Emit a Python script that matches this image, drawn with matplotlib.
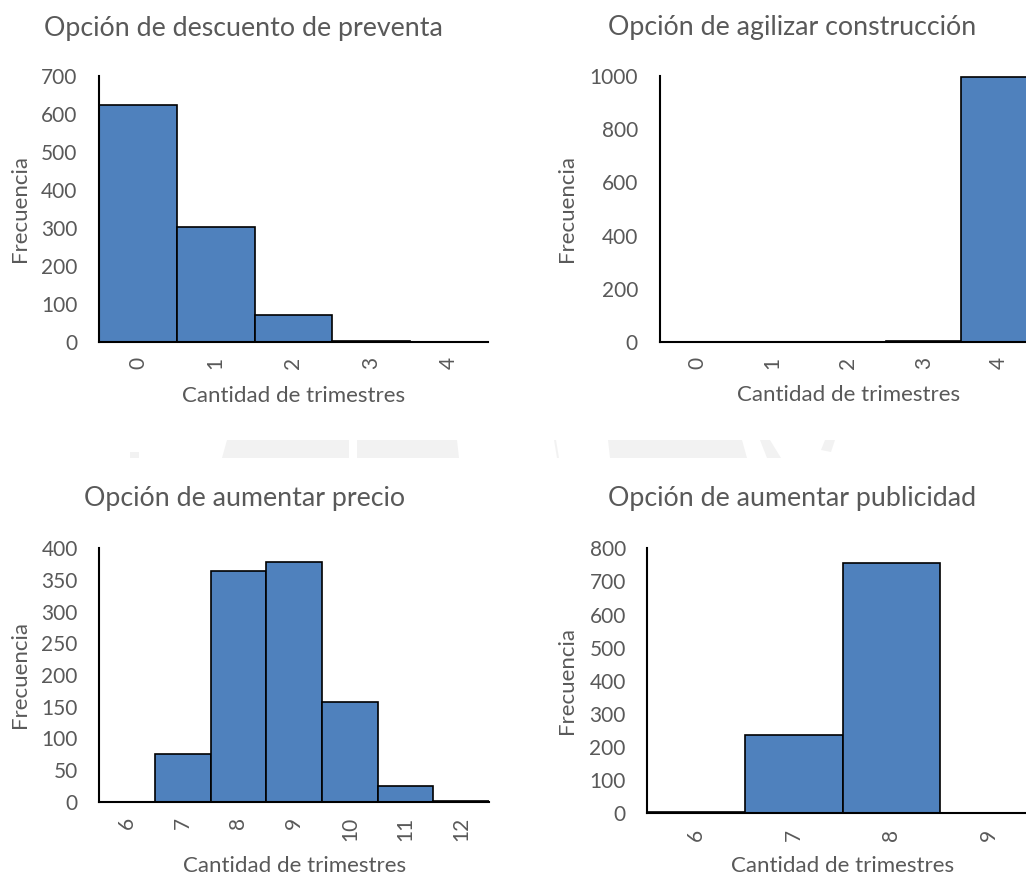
import numpy as np
import matplotlib
matplotlib.use("Agg")
import matplotlib.pyplot as plt
from matplotlib.patches import Polygon

plt.rcParams['font.family'] = ['Lato', 'DejaVu Sans']

# --- frecuencias por opción (1000 simulaciones) ---
cat_preventa = ["0", "1", "2", "3", "4"]
frec_preventa = [625, 302, 70, 3, 0]

cat_agilizar = ["0", "1", "2", "3", "4"]
frec_agilizar = [0, 0, 0, 5, 995]

cat_precio = ["6", "7", "8", "9", "10", "11", "12"]
frec_precio = [0, 75, 364, 378, 158, 25, 1]

cat_publicidad = ["6", "7", "8", "9"]
frec_publicidad = [4, 236, 757, 0]

W, H = 1026, 876
GRIS = "#595959"
AZUL = "#4F81BD"

fig = plt.figure(figsize=(W / 100, H / 100), dpi=100)
fig.patch.set_facecolor("white")

# marca de agua tenue de fondo
for pts in [
    [(130, 452), (139, 452), (139, 458), (130, 458)],
    [(227, 440), (349, 440), (349, 458), (222, 458)],
    [(357, 440), (457, 440), (459, 458), (357, 458)],
    [(554, 440), (556, 440), (559, 458), (557, 458)],
    [(608, 440), (742, 440), (747, 458), (610, 458)],
    [(760, 440), (770, 440), (781, 458), (767, 458)],
    [(825, 440), (835, 440), (831, 452), (821, 450)],
]:
    fig.patches.append(Polygon([(x / W, 1 - y / H) for x, y in pts],
                               closed=True, facecolor="#f2f2f2",
                               edgecolor="none", transform=fig.transFigure,
                               zorder=0))


def histograma(caja, cats, frec, ymax, paso, titulo, pos_titulo,
               x_ylabel, base_xlabel):
    l, t, r, b = caja
    ax = fig.add_axes([l / W, 1 - b / H, (r - l) / W, (b - t) / H])
    x = np.arange(len(cats))
    ax.bar(x, frec, width=1.0, color=AZUL, edgecolor="black",
           linewidth=1.2, zorder=2)
    ax.set_xlim(-0.5, len(cats) - 0.5)
    ax.set_ylim(0, ymax)
    ax.set_xticks(x)
    ax.set_xticklabels(cats, rotation=90)
    ax.set_yticks(np.arange(0, ymax + 1, paso))
    ax.tick_params(axis="both", length=0, labelsize=15, colors=GRIS)
    ax.tick_params(axis="x", pad=11)
    ax.tick_params(axis="y", pad=15.5)
    for s in ["top", "right"]:
        ax.spines[s].set_visible(False)
    for s in ["left", "bottom"]:
        ax.spines[s].set_color("black")
        ax.spines[s].set_linewidth(1.5)
        ax.spines[s].set_zorder(3)
    ax.set_facecolor("none")

    ax.set_ylabel("Frecuencia", fontsize=16, color=GRIS)
    ax.yaxis.set_label_coords((x_ylabel - l) / (r - l), 0.5)
    ax.yaxis.label.set_va("center")

    ax.set_xlabel("Cantidad de trimestres", fontsize=16, color=GRIS)
    ax.xaxis.set_label_coords(0.5, (b - base_xlabel) / (b - t))
    ax.xaxis.label.set_va("baseline")

    fig.text(pos_titulo[0] / W, 1 - pos_titulo[1] / H, titulo,
             ha="center", va="baseline", fontsize=19.3, color=GRIS)
    return ax


histograma((99, 76, 488, 342), cat_preventa, frec_preventa, 700, 100,
           "Opción de descuento de preventa", (243, 36), 20, 402)
histograma((659.5, 76, 1037, 342), cat_agilizar, frec_agilizar, 1000, 200,
           "Opción de agilizar construcción", (792, 35), 567, 401)
histograma((99.3, 548.3, 489, 801.7), cat_precio, frec_precio, 400, 50,
           "Opción de aumentar precio", (245, 506), 20, 872)
histograma((647.3, 548.3, 1038, 813.3), cat_publicidad, frec_publicidad, 800, 100,
           "Opción de aumentar publicidad", (792, 506), 567, 872)

fig.savefig("out.png", dpi=100, facecolor="white")
